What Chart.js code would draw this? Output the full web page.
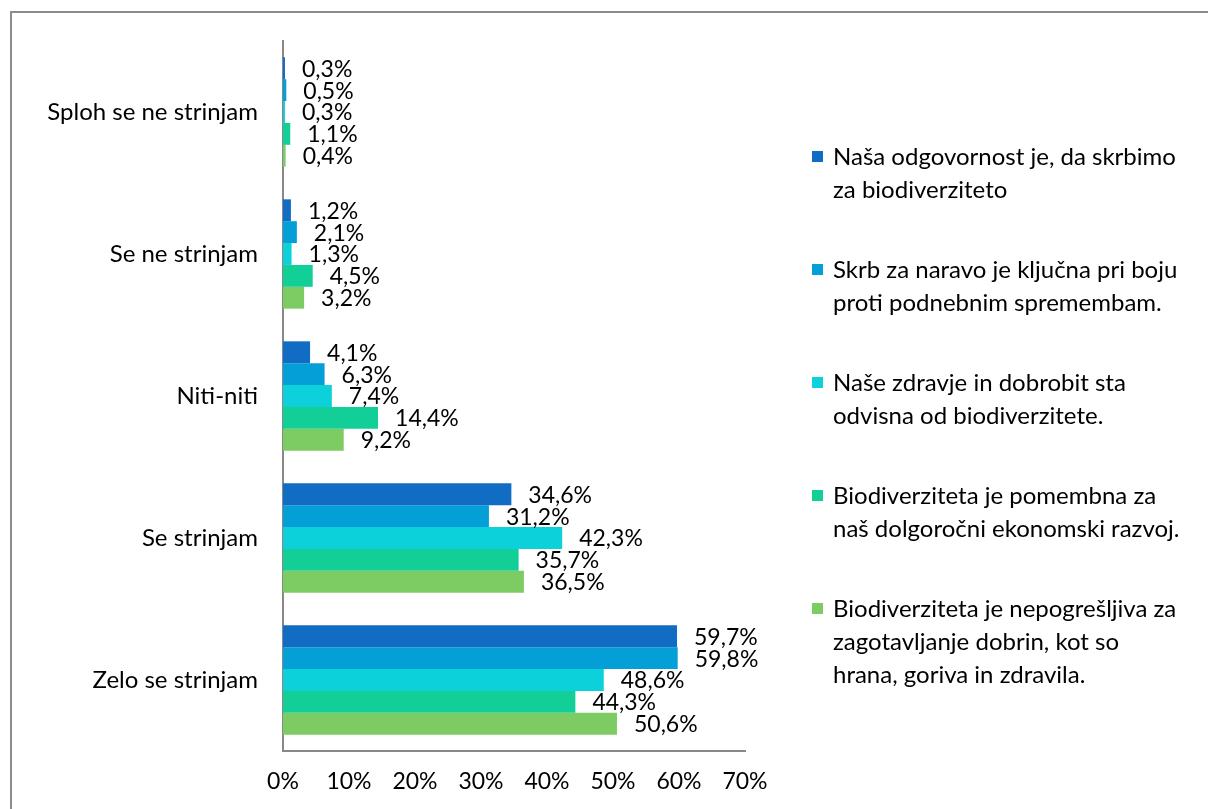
<!DOCTYPE html>
<html>
<head>
<meta charset="utf-8">
<script src="https://cdn.jsdelivr.net/npm/chart.js@4/dist/chart.umd.min.js"></script>
<style>
html,body{margin:0;padding:0;background:#fff;}
#wrap{width:1208px;height:809px;position:relative;}
</style>
</head>
<body>
<div id="wrap"><canvas id="c" width="1208" height="809"></canvas></div>
<script>
const categories = ["Sploh se ne strinjam", "Se ne strinjam", "Niti-niti", "Se strinjam", "Zelo se strinjam"];
const seriesNames = [
  ["Naša odgovornost je, da skrbimo", "za biodiverziteto"],
  ["Skrb za naravo je ključna pri boju", "proti podnebnim spremembam."],
  ["Naše zdravje in dobrobit sta", "odvisna od biodiverzitete."],
  ["Biodiverziteta je pomembna za", "naš dolgoročni ekonomski razvoj."],
  ["Biodiverziteta je nepogrešljiva za", "zagotavljanje dobrin, kot so", "hrana, goriva in zdravila."]
];
const odgovornost = [0.3, 1.2, 4.1, 34.6, 59.7];
const skrbNarava = [0.5, 2.1, 6.3, 31.2, 59.8];
const zdravje = [0.3, 1.3, 7.4, 42.3, 48.6];
const ekonomski = [1.1, 4.5, 14.4, 35.7, 44.3];
const nepogresljiva = [0.4, 3.2, 9.2, 36.5, 50.6];
const xTicks = [0, 10, 20, 30, 40, 50, 60, 70];
const colors = ["#116DC4", "#039FD6", "#0CD0DA", "#12CF98", "#7DCB63"];

const seriesValues = [odgovornost, skrbNarava, zdravje, ekonomski, nepogresljiva];
const FONT = "Lato, 'Liberation Sans', sans-serif";

const frame = {
  id: 'frame',
  beforeDraw(chart) {
    const ctx = chart.ctx;
    ctx.save();
    ctx.fillStyle = '#fff';
    ctx.fillRect(0, 0, chart.width, chart.height);
    ctx.strokeStyle = '#8c8c8c';
    ctx.lineWidth = 2;
    ctx.strokeRect(11, 12, chart.width + 20, chart.height + 20);
    ctx.restore();
  }
};

const dataLabels = {
  id: 'dataLabels',
  afterDatasetsDraw(chart) {
    const ctx = chart.ctx;
    ctx.save();
    ctx.font = "23px " + FONT;
    ctx.fillStyle = '#000';
    ctx.textAlign = 'left';
    ctx.textBaseline = 'middle';
    chart.data.datasets.forEach((ds, i) => {
      const meta = chart.getDatasetMeta(i);
      meta.data.forEach((bar, j) => {
        const v = ds.data[j];
        const txt = v.toFixed(1).replace('.', ',') + '%';
        ctx.fillText(txt, bar.x + 17, bar.y + 1);
      });
    });
    ctx.restore();
  }
};

const customLegend = {
  id: 'customLegend',
  afterDraw(chart) {
    const ctx = chart.ctx;
    ctx.save();
    ctx.font = "24px " + FONT;
    ctx.textBaseline = 'middle';
    ctx.textAlign = 'left';
    const startY = 157, itemGap = 113, lineH = 33;
    chart.data.datasets.forEach((ds, i) => {
      const y = startY + i * itemGap;
      ctx.fillStyle = ds.backgroundColor;
      ctx.fillRect(812, y - 6, 11, 11);
      ctx.fillStyle = '#000';
      const lines = seriesNames[i];
      lines.forEach((ln, k) => ctx.fillText(ln, 833, y + k * lineH));
    });
    ctx.restore();
  }
};

new Chart(document.getElementById('c'), {
  type: 'bar',
  data: {
    labels: categories,
    datasets: seriesValues.map((vals, i) => ({
      label: seriesNames[i].join(' '),
      data: vals,
      backgroundColor: colors[i],
      borderWidth: 0,
      barPercentage: 1,
      categoryPercentage: 0.77
    }))
  },
  options: {
    indexAxis: 'y',
    responsive: false,
    animation: false,
    layout: { padding: { top: 41, right: 463, left: 0, bottom: 0 } },
    plugins: { legend: { display: false }, tooltip: { enabled: false } },
    scales: {
      x: {
        min: 0, max: 70,
        afterBuildTicks(scale) { scale.ticks = xTicks.map(v => ({ value: v })); },
        afterFit(scale) { scale.height = 58; },
        grid: { display: false, drawTicks: false },
        border: { display: true, color: '#888', width: 2 },
        ticks: {
          padding: 17,
          color: '#000',
          font: { family: FONT, size: 23 },
          callback: v => v + '%'
        }
      },
      y: {
        afterFit(scale) { scale.width = 283; },
        grid: { display: false, drawTicks: false },
        border: { display: true, color: '#888', width: 2 },
        ticks: {
          padding: 25,
          color: '#000',
          font: { family: FONT, size: 24 }
        }
      }
    }
  },
  plugins: [frame, dataLabels, customLegend]
});
</script>
</body>
</html>
